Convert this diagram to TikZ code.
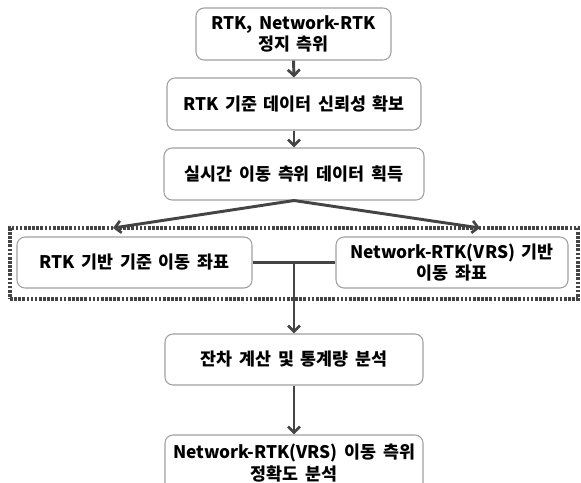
\documentclass[tikz,border=0pt]{standalone}
\usepackage{fontspec}
\setmainfont{Noto Sans CJK KR}[WordSpace=1.7]
\usetikzlibrary{arrows.meta}
\definecolor{linegray}{HTML}{444444}
\definecolor{boxgray}{HTML}{A0A0A0}
\tikzset{
  px/.style={x=0.75pt,y=-0.75pt},
  flowbox/.style={draw=boxgray, line width=0.8pt, rounded corners=6pt, fill=white,
    align=center, inner sep=0pt, font=\bfseries\fontsize{13}{16}\selectfont, text=black},
  conn/.style={draw=linegray, line width=2.2pt},
  arr/.style={conn, -{Straight Barb[length=4.5pt,width=9pt,line width=2pt]}},
  dotbox/.style={draw=linegray, line width=2.6pt, dash pattern=on 2pt off 1.1pt}
}
\begin{document}
\begin{tikzpicture}[px]
\clip (0,0) rectangle (581,482);
\useasboundingbox (0,0) rectangle (581,482);
\fill[white] (0,0) rectangle (581,482);
% dotted group
\node[dotbox, minimum width=0.75*568pt, minimum height=0.75*71pt, inner sep=0pt] (grp) at (294,263.5) {};
\node[flowbox, minimum width=0.75*195pt, minimum height=0.75*52pt] (b1) at (293.5,34) {RTK, Network-RTK\\정지 측위};
\node[flowbox, minimum width=0.75*254pt, minimum height=0.75*52pt] (b2) at (294,104) {RTK 기준 데이터 신뢰성 확보};
\node[flowbox, minimum width=0.75*260pt, minimum height=0.75*52pt] (b3) at (294,174) {실시간 이동 측위 데이터 획득};
\node[flowbox, minimum width=0.75*235pt, minimum height=0.75*51pt] (L) at (134.5,262.5) {RTK 기반 기준 이동 좌표};
\node[flowbox, minimum width=0.75*232pt, minimum height=0.75*51pt] (R) at (452,262.5) {Network-RTK(VRS) 기반\\이동 좌표};
\node[flowbox, minimum width=0.75*258pt, minimum height=0.75*51pt] (b5) at (294,359.5) {잔차 계산 및 통계량 분석};
\node[flowbox, minimum width=0.75*258pt, minimum height=0.75*56pt] (b6) at (294,463) {Network-RTK(VRS) 이동 측위\\정확도 분석};
\coordinate (tl) at (113,228);
\coordinate (tr) at (480,228);
\coordinate (j) at (b5.north |- L.east);
\draw[arr] (b1.south) -- (b2.north);
\draw[arr] (b2.south) -- (b3.north);
\draw[arr] (b3.south) -- (tl);
\draw[arr] (b3.south) -- (tr);
\draw[conn] (L.east) -- (R.west);
\draw[arr] (j) -- (b5.north);
\draw[arr] (b5.south) -- (b6.north);
\end{tikzpicture}
\end{document}
